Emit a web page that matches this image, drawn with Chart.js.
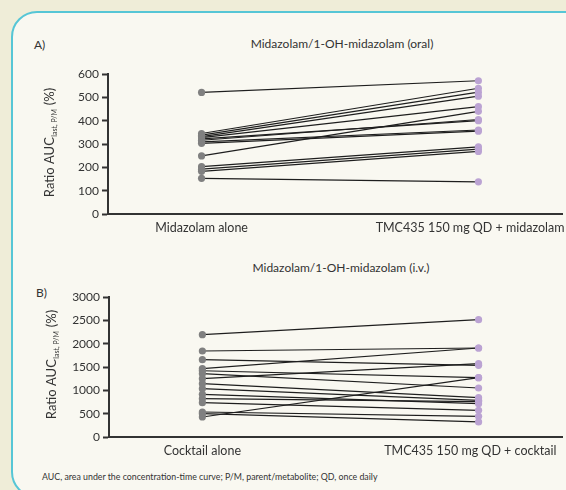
<!DOCTYPE html>
<html lang="en">
<head>
<meta charset="UTF-8">
<title>Midazolam ratio</title>
<script src="https://cdn.jsdelivr.net/npm/chart.js@4"></script>
<style>
	html,body{margin:0;padding:0;}
	body{width:566px;height:490px;background:#efedd8;position:relative;overflow:hidden;font-family:Lato,sans-serif;color:#333;}
	#box{position:absolute;left:11px;top:11px;width:600px;height:487px;border:2px solid #56c6d6;border-radius:26px;background:#f9f8f1;box-sizing:border-box;}
	.txt{position:absolute;font-size:12px;line-height:14px;white-space:nowrap;}
	.ttl{transform:translateX(-50%);}
	canvas{position:absolute;left:0;}
	#foot{font-size:8.8px;}
</style>
</head>
<body>
<div id="box"></div>
<div class="txt" style="left:34px;top:38px">A)</div>
<div class="txt ttl" style="left:342px;top:37px">Midazolam/1-OH-midazolam (oral)</div>
<div class="txt ttl" style="left:341px;top:261px">Midazolam/1-OH-midazolam (i.v.)</div>
<div class="txt" style="left:36px;top:286px">B)</div>
<div class="txt" id="foot" style="left:42px;top:470px">AUC, area under the concentration-time curve; P/M, parent/metabolite; QD, once daily</div>
<canvas id="chartA" width="566" height="185" style="top:55px"></canvas>
<canvas id="chartB" width="566" height="185" style="top:280px"></canvas>

<script>
	// panel A: midazolam/1-OH-midazolam, oral
	var oralLabels=["Midazolam alone","TMC435 150 mg QD + midazolam"];
	var oralAlone=[521,345,338,332,327,322,316,309,303,249,203,192,183,153];
	var oralTmc  =[571,539,522,505,460,400,405,360,355,440,288,278,268,138];
	var oralTicks=[0,100,200,300,400,500,600];

	// panel B: midazolam/1-OH-midazolam, i.v.
	var ivLabels=["Cocktail alone","TMC435 150 mg QD + cocktail"];
	var ivAlone=[2193,1843,1657,1465,1420,1357,1250,1143,1036,914,821,736,536,500,429];
	var ivTmc  =[2515,1907,1536,1907,1272,1050,1572,843,786,714,760,571,443,322,1272];
	var ivTicks=[0,500,1000,1500,2000,2500,3000];

	var GREY="#808080", LILAC="#bba3d3", INK="#333";

	var yTitle={
		id:"ytitle",
		afterDraw:function(chart,args,opts){
			var ctx=chart.ctx;
			ctx.save();
			ctx.translate(opts.x,opts.y);
			ctx.rotate(-Math.PI/2);
			ctx.fillStyle=INK;
			ctx.textBaseline="middle";
			var big="13px Lato", small="7px Lato";
			var p1="Ratio AUC", p2="last, P/M", p3=" (%)";
			ctx.font=big; var w1=ctx.measureText(p1).width, w3=ctx.measureText(p3).width;
			ctx.font=small; var w2=ctx.measureText(p2).width;
			var x=-(w1+w2+w3)/2;
			ctx.font=big; ctx.fillText(p1,x,0);
			ctx.font=small; ctx.fillText(p2,x+w1+0.5,5);
			ctx.font=big; ctx.fillText(p3,x+w1+w2+1,0);
			ctx.restore();
		}
	};

	function makeChart(id,labels,alone,tmc,ticks,opt){
		var sets=[];
		sets.push({
			data:alone.map(function(v){return {x:0,y:v};}),
			showLine:false,pointRadius:3.6,pointBackgroundColor:GREY,pointBorderWidth:0,order:0
		});
		sets.push({
			data:tmc.map(function(v){return {x:1,y:v};}),
			showLine:false,pointRadius:3.6,pointBackgroundColor:LILAC,pointBorderWidth:0,order:0
		});
		alone.forEach(function(v,i){
			sets.push({
				data:[{x:0,y:v},{x:1,y:tmc[i]}],
				showLine:true,borderColor:"#1e1e1e",borderWidth:1.2,pointRadius:0,order:1
			});
		});

		return new Chart(document.getElementById(id),{
			type:"scatter",
			data:{datasets:sets},
			plugins:[yTitle],
			options:{
				responsive:false,
				animation:false,
				layout:{padding:{top:opt.top,left:0,right:2,bottom:0}},
				plugins:{legend:{display:false},tooltip:{enabled:false},ytitle:{x:opt.tx,y:opt.ty}},
				scales:{
					x:{
						type:"linear",min:-0.338,max:1.302,
						afterBuildTicks:function(s){ s.ticks=[{value:0},{value:0.97}]; },
						afterFit:function(s){ s.height=185-opt.bottom; s.paddingLeft=0; s.paddingRight=0; },
						grid:{display:false,drawTicks:false},
						border:{display:true,color:INK,width:2},
						ticks:{
							padding:6,color:INK,font:{family:"Lato",size:12.5},maxRotation:0,
							callback:function(v,i){ return labels[i]; }
						}
					},
					y:{
						min:0,max:ticks[ticks.length-1],
						afterBuildTicks:function(s){ s.ticks=ticks.map(function(t){return {value:t};}); },
						afterFit:function(s){ s.width=opt.left; s.paddingTop=0; s.paddingBottom=0; },
						grid:{drawOnChartArea:false,drawTicks:true,tickLength:6,tickWidth:2,tickColor:INK},
						border:{display:true,color:INK,width:2},
						ticks:{
							padding:3,color:INK,font:{family:"Lato",size:12},
							callback:function(v){ return String(v); }
						}
					}
				}
			}
		});
	}

	makeChart("chartA",oralLabels,oralAlone,oralTmc,oralTicks,{top:19,bottom:159,left:108,tx:50,ty:88});
	makeChart("chartB",ivLabels,ivAlone,ivTmc,ivTicks,{top:17,bottom:157,left:109,tx:52,ty:85});
</script>
</body>
</html>
